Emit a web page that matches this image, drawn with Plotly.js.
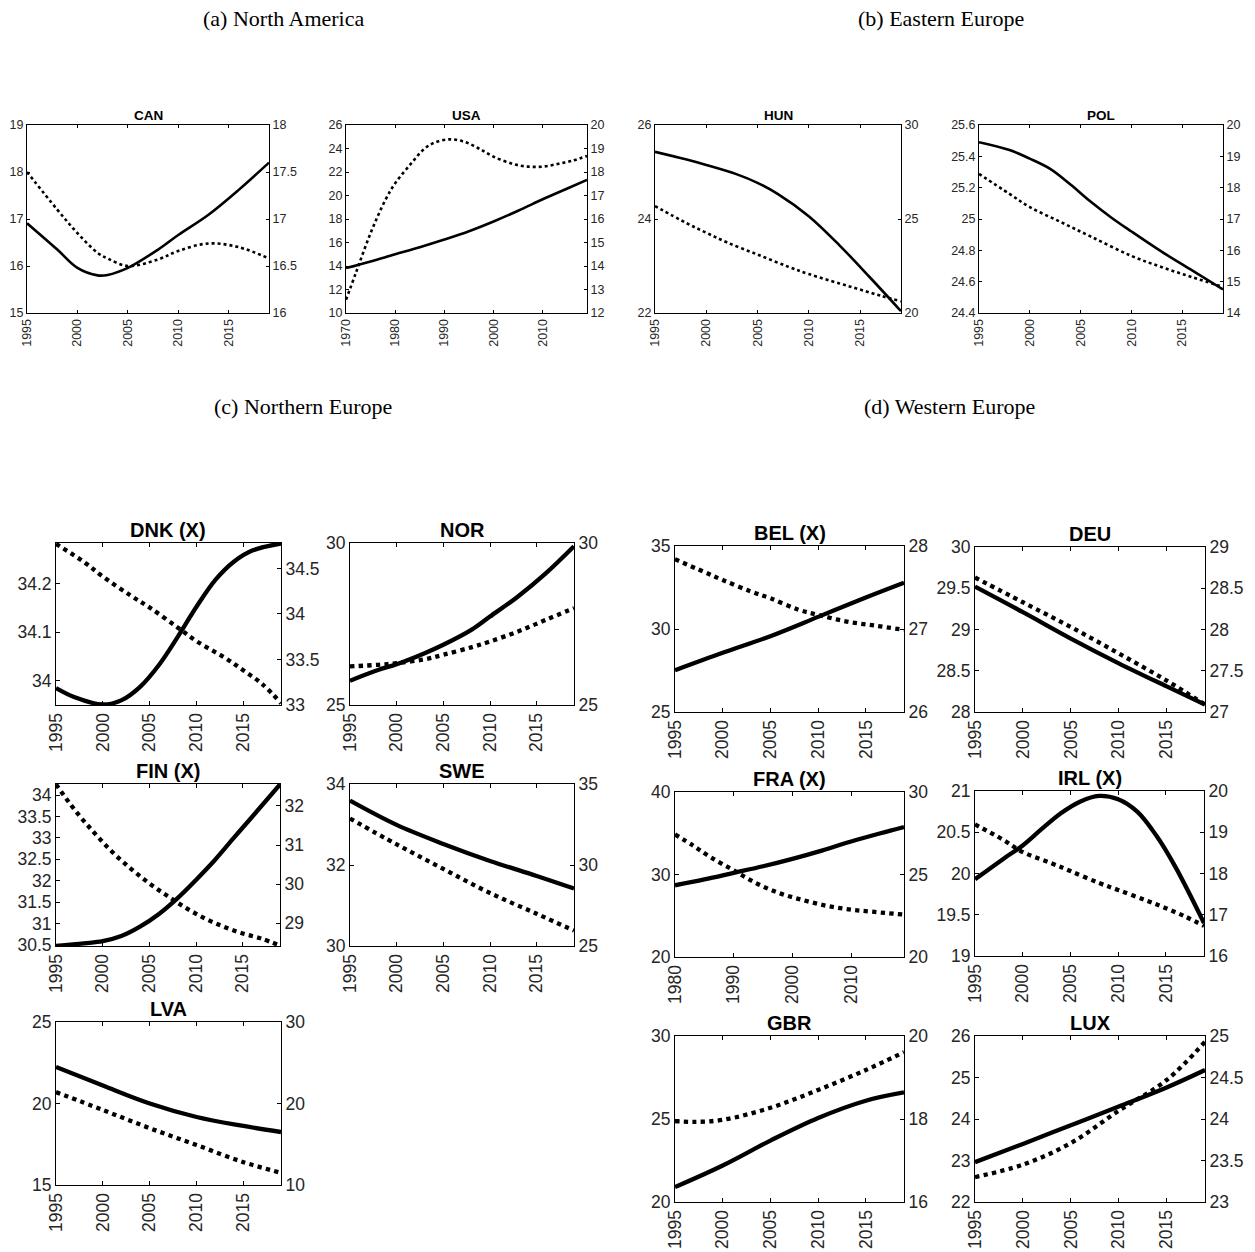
<!DOCTYPE html>
<html>
<head>
<meta charset="utf-8">
<script src="https://cdn.plot.ly/plotly-3.0.1.min.js"></script>
<style>
  html, body { margin: 0; padding: 0; background: #fff; }
  #chart { width: 1255px; height: 1252px; }
</style>
</head>
<body>
<div id="chart"></div>
<script>
// ---- Series: solid line on the left axis, dotted line on the right axis ----

// (a) North America
const canSolidYear  = [1995, 1998, 2000, 2002, 2003, 2005, 2008, 2010, 2013, 2016, 2019];
const canSolid      = [16.91, 16.35, 15.96, 15.80, 15.81, 15.96, 16.35, 16.66, 17.09, 17.62, 18.20];
const canDottedYear = [1995, 1998, 2000, 2002, 2003, 2005, 2008, 2010, 2013, 2016, 2019];
const canDotted     = [17.50, 17.10, 16.85, 16.64, 16.58, 16.50, 16.57, 16.66, 16.74, 16.70, 16.58];

const usaSolidYear  = [1970, 1975, 1980, 1985, 1990, 1995, 2000, 2005, 2010, 2015, 2019];
const usaSolid      = [13.82, 14.39, 15.00, 15.60, 16.25, 16.96, 17.79, 18.70, 19.68, 20.60, 21.33];
const usaDottedYear = [1970, 1972, 1975, 1978, 1980, 1983, 1986, 1988, 1991, 1994, 1997, 2000, 2004, 2007, 2010, 2013, 2016, 2019];
const usaDotted     = [12.56, 13.70, 15.40, 16.81, 17.52, 18.30, 19.00, 19.25, 19.39, 19.29, 19.00, 18.65, 18.34, 18.23, 18.23, 18.34, 18.48, 18.68];

// (b) Eastern Europe
const hunSolidYear  = [1995, 1998, 2000, 2003, 2005, 2007, 2010, 2013, 2016, 2019];
const hunSolid      = [25.43, 25.27, 25.15, 24.95, 24.77, 24.53, 24.06, 23.44, 22.75, 22.04];
const hunDottedYear = [1995, 1998, 2000, 2002, 2005, 2008, 2010, 2013, 2015, 2017, 2019];
const hunDotted     = [25.69, 24.80, 24.27, 23.76, 23.11, 22.46, 22.07, 21.57, 21.25, 20.92, 20.62];

const polSolidYear  = [1995, 1998, 2000, 2002, 2004, 2006, 2008, 2010, 2013, 2016, 2019];
const polSolid      = [25.49, 25.44, 25.385, 25.32, 25.22, 25.11, 25.01, 24.92, 24.79, 24.67, 24.55];
const polDottedYear = [1995, 1998, 2000, 2003, 2006, 2010, 2013, 2016, 2019];
const polDotted     = [18.44, 17.80, 17.38, 16.91, 16.44, 15.82, 15.46, 15.14, 14.83];

// (c) Northern Europe
const dnkSolidYear  = [1995, 1997, 2000, 2002, 2004, 2006, 2008, 2010, 2012, 2014, 2016, 2019];
const dnkSolid      = [33.985, 33.966, 33.951, 33.960, 33.988, 34.033, 34.091, 34.153, 34.208, 34.246, 34.269, 34.283];
const dnkDottedYear = [1995, 1998, 2000, 2003, 2005, 2008, 2010, 2013, 2015, 2017, 2019];
const dnkDotted     = [34.77, 34.57, 34.41, 34.20, 34.07, 33.85, 33.70, 33.52, 33.38, 33.23, 33.02];

const norSolidYear  = [1995, 1998, 2000, 2003, 2005, 2008, 2010, 2013, 2016, 2019];
const norSolid      = [25.75, 26.08, 26.26, 26.60, 26.86, 27.32, 27.73, 28.35, 29.07, 29.90];
const norDottedYear = [1995, 1998, 2000, 2003, 2005, 2008, 2010, 2013, 2016, 2019];
const norDotted     = [26.19, 26.24, 26.29, 26.41, 26.55, 26.78, 26.96, 27.27, 27.63, 27.99];

const finSolidYear  = [1995, 1998, 2000, 2002, 2004, 2006, 2008, 2010, 2012, 2014, 2016, 2019];
const finSolid      = [30.48, 30.54, 30.59, 30.71, 30.93, 31.22, 31.59, 32.02, 32.48, 32.99, 33.49, 34.25];
const finDottedYear = [1995, 1997, 1999, 2001, 2003, 2005, 2007, 2009, 2011, 2013, 2015, 2017, 2019];
const finDotted     = [32.55, 31.90, 31.34, 30.83, 30.40, 30.02, 29.69, 29.38, 29.12, 28.91, 28.74, 28.61, 28.43];

const sweSolidYear  = [1995, 2000, 2005, 2010, 2015, 2019];
const sweSolid      = [33.59, 32.99, 32.52, 32.10, 31.73, 31.42];
const sweDottedYear = [1995, 2000, 2005, 2010, 2015, 2019];
const sweDotted     = [32.87, 31.27, 29.76, 28.27, 26.99, 25.95];

const lvaSolidYear  = [1995, 2000, 2005, 2010, 2015, 2019];
const lvaSolid      = [22.24, 21.10, 20.00, 19.17, 18.62, 18.25];
const lvaDottedYear = [1995, 2000, 2005, 2010, 2015, 2019];
const lvaDotted     = [21.40, 19.20, 16.97, 14.90, 12.80, 11.50];

// (d) Western Europe
const belSolidYear  = [1995, 2000, 2005, 2010, 2015, 2019];
const belSolid      = [27.52, 28.57, 29.57, 30.73, 31.90, 32.79];
const belDottedYear = [1995, 1998, 2000, 2003, 2005, 2008, 2010, 2013, 2016, 2019];
const belDotted     = [27.84, 27.69, 27.59, 27.45, 27.37, 27.23, 27.17, 27.09, 27.04, 26.99];

const deuSolidYear  = [1995, 2000, 2005, 2010, 2015, 2019];
const deuSolid      = [29.52, 29.21, 28.89, 28.59, 28.31, 28.09];
const deuDottedYear = [1995, 2000, 2005, 2010, 2015, 2019];
const deuDotted     = [28.63, 28.33, 28.03, 27.71, 27.38, 27.09];

const fraSolidYear  = [1980, 1985, 1990, 1995, 2000, 2005, 2010, 2015, 2019];
const fraSolid      = [28.69, 29.40, 30.20, 31.00, 31.90, 32.90, 34.00, 35.00, 35.76];
const fraDottedYear = [1980, 1983, 1986, 1990, 1994, 1998, 2002, 2006, 2010, 2014, 2019];
const fraDotted     = [27.43, 26.77, 26.06, 25.25, 24.44, 23.84, 23.43, 23.09, 22.87, 22.73, 22.57];

const irlSolidYear  = [1995, 1998, 2000, 2002, 2004, 2006, 2008, 2010, 2012, 2014, 2016, 2019];
const irlSolid      = [19.93, 20.18, 20.34, 20.54, 20.73, 20.87, 20.94, 20.90, 20.75, 20.46, 20.08, 19.40];
const irlDottedYear = [1995, 1998, 2000, 2003, 2005, 2008, 2010, 2013, 2015, 2017, 2019];
const irlDotted     = [19.19, 18.81, 18.52, 18.25, 18.06, 17.77, 17.60, 17.34, 17.16, 16.96, 16.73];

const gbrSolidYear  = [1995, 2000, 2005, 2010, 2015, 2019];
const gbrSolid      = [20.90, 22.20, 23.70, 25.06, 26.10, 26.60];
const gbrDottedYear = [1995, 1997, 2000, 2005, 2010, 2015, 2019];
const gbrDotted     = [17.95, 17.93, 17.98, 18.27, 18.70, 19.18, 19.61];

const luxSolidYear  = [1995, 2000, 2005, 2010, 2015, 2019];
const luxSolid      = [22.96, 23.40, 23.85, 24.30, 24.76, 25.18];
const luxDottedYear = [1995, 2000, 2005, 2010, 2015, 2019];
const luxDotted     = [23.30, 23.45, 23.71, 24.10, 24.47, 24.93];

// ---- Tick label sets ----
const yearTicks5   = [1995, 2000, 2005, 2010, 2015];
const yearTicksUSA = [1970, 1980, 1990, 2000, 2010];
const yearTicksFRA = [1980, 1990, 2000, 2010];

const sectionTitles = ['(a) North America', '(b) Eastern Europe', '(c) Northern Europe', '(d) Western Europe'];

// ---- Panel definitions (box = [left, right, top, bottom] in page pixels) ----
const panels = [
  { title: 'CAN', box: [27, 269, 125, 313], small: true,
    xs: canSolidYear, ys: canSolid, xd: canDottedYear, yd: canDotted,
    xr: [1995, 2019], xt: yearTicks5,
    lr: [15, 19], lt: [15, 16, 17, 18, 19], rr: [16, 18], rt: [16, 16.5, 17, 17.5, 18] },
  { title: 'USA', box: [346, 587, 125, 313], small: true,
    xs: usaSolidYear, ys: usaSolid, xd: usaDottedYear, yd: usaDotted,
    xr: [1970, 2019], xt: yearTicksUSA,
    lr: [10, 26], lt: [10, 12, 14, 16, 18, 20, 22, 24, 26], rr: [12, 20], rt: [12, 13, 14, 15, 16, 17, 18, 19, 20] },
  { title: 'HUN', box: [655, 901, 125, 313], small: true,
    xs: hunSolidYear, ys: hunSolid, xd: hunDottedYear, yd: hunDotted,
    xr: [1995, 2019], xt: yearTicks5,
    lr: [22, 26], lt: [22, 24, 26], rr: [20, 30], rt: [20, 25, 30] },
  { title: 'POL', box: [979, 1223, 125, 313], small: true,
    xs: polSolidYear, ys: polSolid, xd: polDottedYear, yd: polDotted,
    xr: [1995, 2019], xt: yearTicks5,
    lr: [24.4, 25.6], lt: [24.4, 24.6, 24.8, 25, 25.2, 25.4, 25.6], rr: [14, 20], rt: [14, 15, 16, 17, 18, 19, 20] },

  { title: 'DNK (X)', box: [56, 281, 543, 705],
    xs: dnkSolidYear, ys: dnkSolid, xd: dnkDottedYear, yd: dnkDotted,
    xr: [1995, 2019], xt: yearTicks5,
    lr: [33.95, 34.284], lt: [34, 34.1, 34.2], rr: [33.0, 34.78], rt: [33, 33.5, 34, 34.5] },
  { title: 'NOR', box: [350, 574, 543, 705],
    xs: norSolidYear, ys: norSolid, xd: norDottedYear, yd: norDotted,
    xr: [1995, 2019], xt: yearTicks5,
    lr: [25, 30], lt: [25, 30], rr: [25, 30], rt: [25, 30] },
  { title: 'FIN (X)', box: [56, 280, 784, 946],
    xs: finSolidYear, ys: finSolid, xd: finDottedYear, yd: finDotted,
    xr: [1995, 2019], xt: yearTicks5,
    lr: [30.477, 34.26], lt: [30.5, 31, 31.5, 32, 32.5, 33, 33.5, 34], rr: [28.42, 32.56], rt: [29, 30, 31, 32] },
  { title: 'SWE', box: [350, 574, 784, 946],
    xs: sweSolidYear, ys: sweSolid, xd: sweDottedYear, yd: sweDotted,
    xr: [1995, 2019], xt: yearTicks5,
    lr: [30, 34], lt: [30, 32, 34], rr: [25, 35], rt: [25, 30, 35] },
  { title: 'LVA', box: [56, 281, 1022, 1185],
    xs: lvaSolidYear, ys: lvaSolid, xd: lvaDottedYear, yd: lvaDotted,
    xr: [1995, 2019], xt: yearTicks5,
    lr: [15, 25], lt: [15, 20, 25], rr: [10, 30], rt: [10, 20, 30] },

  { title: 'BEL (X)', box: [675, 904, 546, 712],
    xs: belSolidYear, ys: belSolid, xd: belDottedYear, yd: belDotted,
    xr: [1995, 2019], xt: yearTicks5,
    lr: [25, 35], lt: [25, 30, 35], rr: [26, 28], rt: [26, 27, 28] },
  { title: 'DEU', box: [975, 1205, 547, 712],
    xs: deuSolidYear, ys: deuSolid, xd: deuDottedYear, yd: deuDotted,
    xr: [1995, 2019], xt: yearTicks5,
    lr: [28, 30], lt: [28, 28.5, 29, 29.5, 30], rr: [27, 29], rt: [27, 27.5, 28, 28.5, 29] },
  { title: 'FRA (X)', box: [675, 904, 792, 957],
    xs: fraSolidYear, ys: fraSolid, xd: fraDottedYear, yd: fraDotted,
    xr: [1980, 2019], xt: yearTicksFRA,
    lr: [20, 40], lt: [20, 30, 40], rr: [20, 30], rt: [20, 25, 30] },
  { title: 'IRL (X)', box: [975, 1204, 791, 956],
    xs: irlSolidYear, ys: irlSolid, xd: irlDottedYear, yd: irlDotted,
    xr: [1995, 2019], xt: yearTicks5,
    lr: [19, 21], lt: [19, 19.5, 20, 20.5, 21], rr: [16, 20], rt: [16, 17, 18, 19, 20] },
  { title: 'GBR', box: [675, 904, 1036, 1202],
    xs: gbrSolidYear, ys: gbrSolid, xd: gbrDottedYear, yd: gbrDotted,
    xr: [1995, 2019], xt: yearTicks5,
    lr: [20, 30], lt: [20, 25, 30], rr: [16, 20], rt: [16, 18, 20] },
  { title: 'LUX', box: [975, 1205, 1036, 1202],
    xs: luxSolidYear, ys: luxSolid, xd: luxDottedYear, yd: luxDotted,
    xr: [1995, 2019], xt: yearTicks5,
    lr: [22, 26], lt: [22, 23, 24, 25, 26], rr: [23, 25], rt: [23, 23.5, 24, 24.5, 25] }
];

const W = 1255, H = 1252;
const SANS = '"Liberation Sans", Arial, sans-serif';
const SERIF = '"Liberation Serif", "Times New Roman", serif';
const INK = '#000';
const LABEL = '#262626';

const layout = {
  width: W, height: H,
  margin: { l: 0, r: 0, t: 0, b: 0, pad: 0 },
  paper_bgcolor: '#fff', plot_bgcolor: 'rgba(0,0,0,0)',
  showlegend: false, hovermode: false,
  font: { family: SANS, color: LABEL },
  annotations: []
};
const traces = [];

const axName = (kind, n) => (n === 1 ? kind + 'axis' : kind + 'axis' + n);
const axRef = (kind, n) => (n === 1 ? kind : kind + n);

panels.forEach((p, i) => {
  const n = i + 1;
  const yl = 2 * n - 1, yr = 2 * n;
  const [x0, x1, y0, y1] = p.box;
  const fs = p.small ? 12.5 : 17.5;
  const tl = p.small ? 3 : 4;
  const lw = p.small ? 2.6 : 4.3;

  const common = {
    showgrid: false, zeroline: false, showline: true,
    linecolor: INK, linewidth: 1, ticks: 'inside', ticklen: tl,
    tickwidth: 1, tickcolor: INK, fixedrange: true,
    tickfont: { family: SANS, size: fs, color: LABEL }
  };

  layout[axName('x', n)] = Object.assign({}, common, {
    domain: [x0 / W, x1 / W], anchor: axRef('y', yl),
    range: p.xr, tickmode: 'array', tickvals: p.xt, ticktext: p.xt.map(String),
    tickangle: -90, mirror: 'ticks'
  });
  layout[axName('y', yl)] = Object.assign({}, common, {
    domain: [1 - y1 / H, 1 - y0 / H], anchor: axRef('x', n),
    range: p.lr, tickmode: 'array', tickvals: p.lt, ticktext: p.lt.map(String),
    side: 'left'
  });
  layout[axName('y', yr)] = Object.assign({}, common, {
    overlaying: axRef('y', yl), anchor: axRef('x', n),
    range: p.rr, tickmode: 'array', tickvals: p.rt, ticktext: p.rt.map(String),
    side: 'right'
  });

  traces.push({
    type: 'scatter', mode: 'lines', x: p.xd, y: p.yd,
    xaxis: axRef('x', n), yaxis: axRef('y', yr),
    line: { color: INK, width: lw, dash: 'dot', shape: 'spline', smoothing: 1 }
  });
  traces.push({
    type: 'scatter', mode: 'lines', x: p.xs, y: p.ys,
    xaxis: axRef('x', n), yaxis: axRef('y', yl),
    line: { color: INK, width: lw, shape: 'spline', smoothing: 1 }
  });

  layout.annotations.push({
    text: '<b>' + p.title + '</b>', showarrow: false,
    xref: 'paper', yref: 'paper',
    x: (x0 + x1) / 2 / W, y: 1 - y0 / H,
    xanchor: 'center', yanchor: 'bottom', yshift: 0,
    font: { family: SANS, size: p.small ? 13.5 : 20, color: INK }
  });
});

// Section headings
const headingPos = [[283, 18], [941, 18], [303, 406], [949, 406]];
sectionTitles.forEach((t, k) => {
  layout.annotations.push({
    text: t, showarrow: false, xref: 'paper', yref: 'paper',
    x: headingPos[k][0] / W, y: 1 - headingPos[k][1] / H,
    xanchor: 'center', yanchor: 'middle',
    font: { family: SERIF, size: 22, color: INK }
  });
});

Plotly.newPlot('chart', traces, layout, { staticPlot: true, displayModeBar: false });
</script>
</body>
</html>
